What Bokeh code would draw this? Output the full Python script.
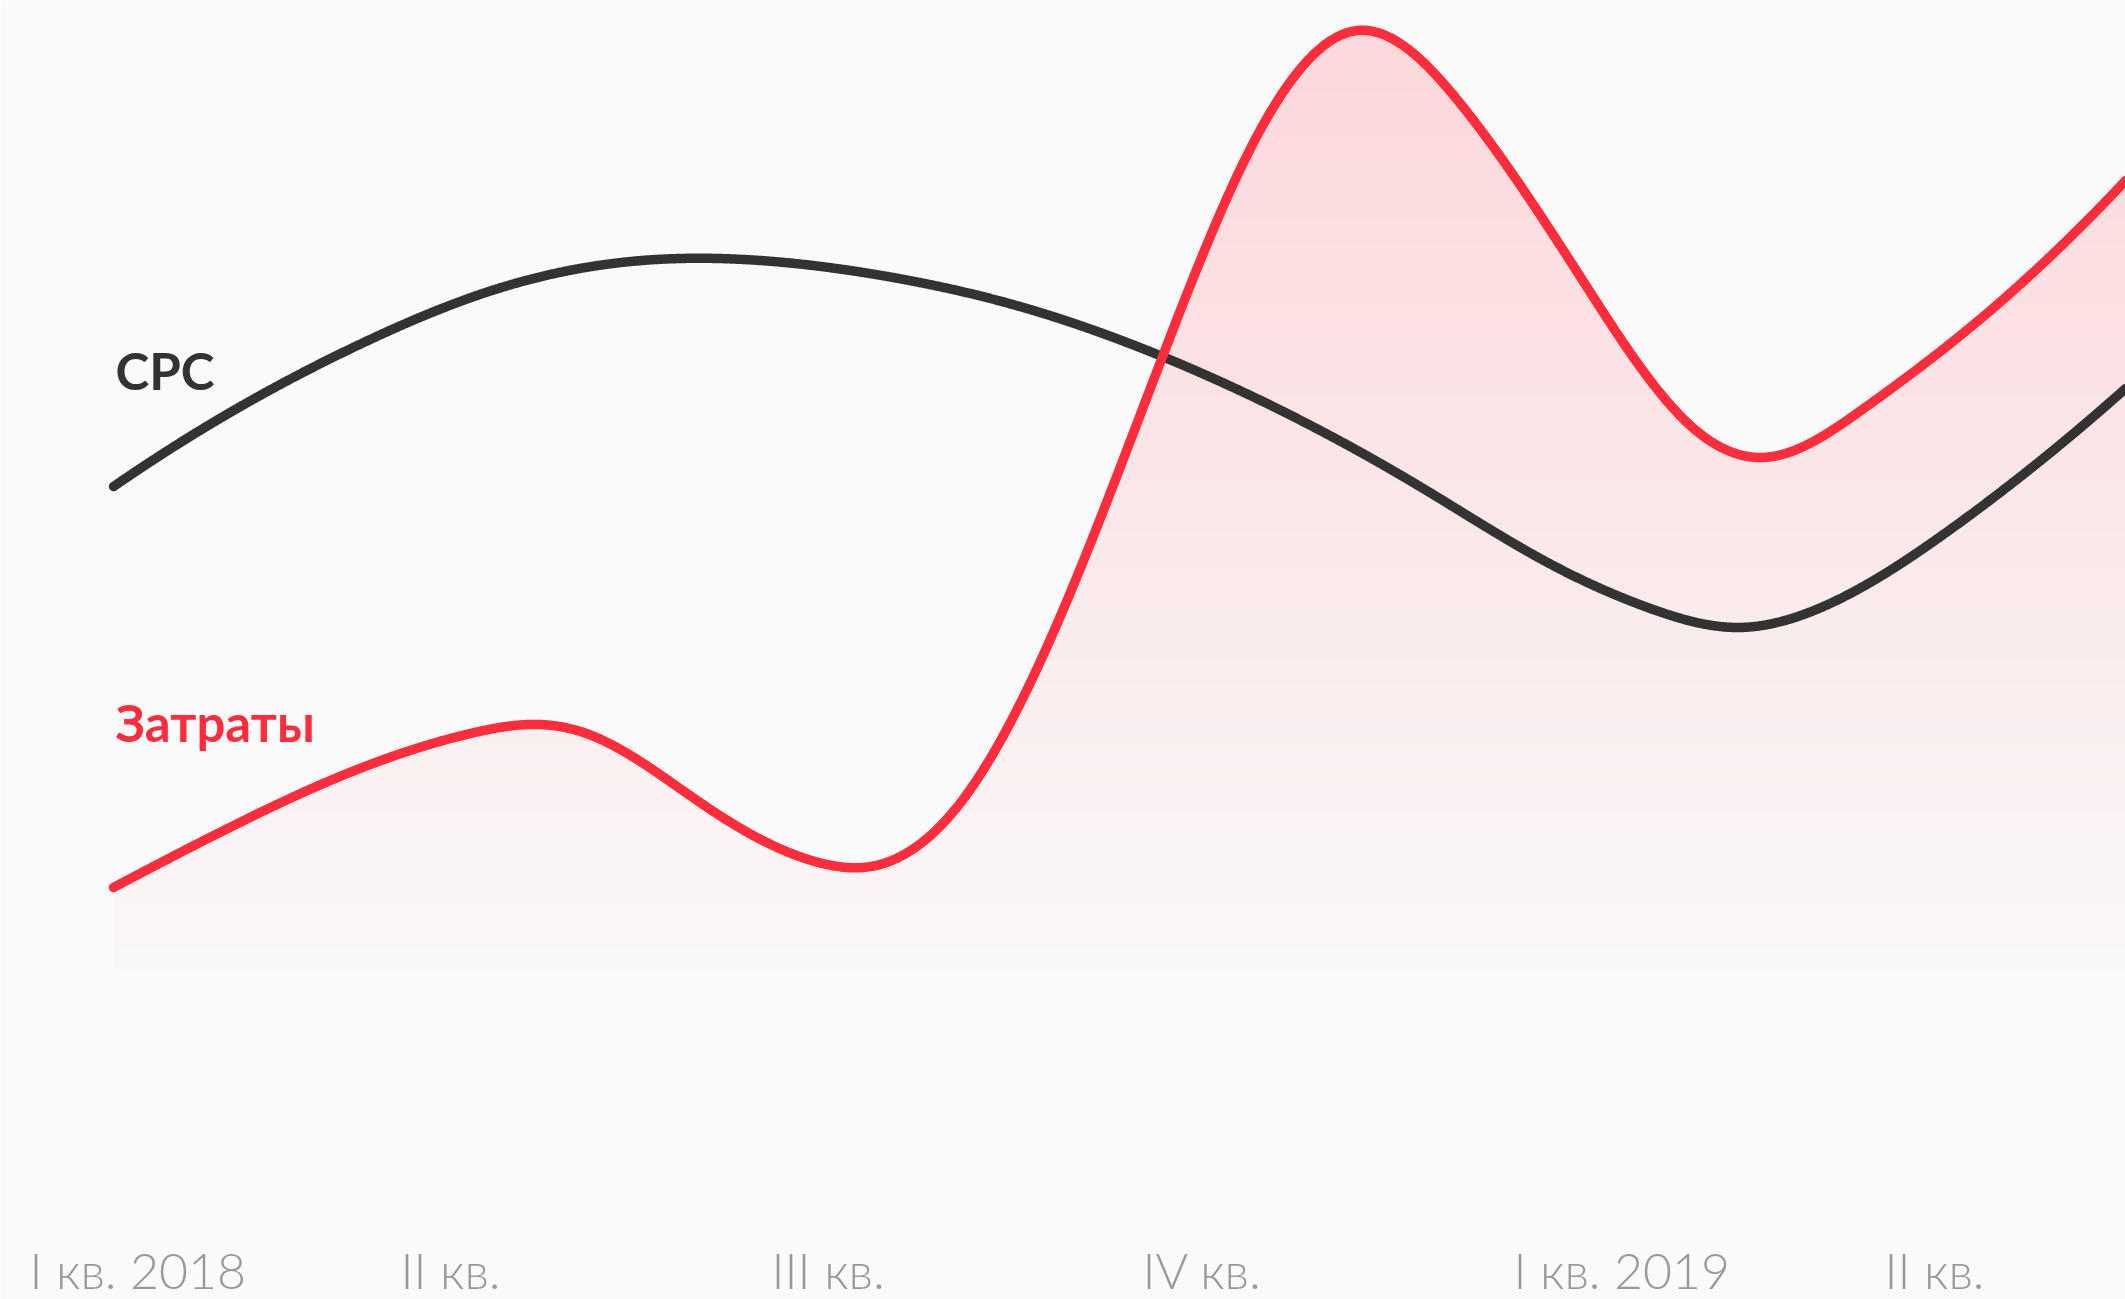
import numpy as np
from bokeh.plotting import figure
from bokeh.models import Range1d, Label
from bokeh.embed import file_html
from bokeh.resources import INLINE

# Quarter labels along the bottom (month index from January 2018)
quarter_labels = ["I кв. 2018", "II кв.", "III кв.", "IV кв.", "I кв. 2019", "II кв."]
quarter_months = [0, 3, 6, 9, 12, 15]

# "Затраты" (spend), relative index
cost_month = [0.68, 1.41, 2.51, 3.60, 4.04, 4.48, 5.47, 6.45, 6.74, 7.53, 8.39,
              9.15, 9.95, 10.74, 11.57, 12.56, 13.43, 14.00, 14.81, 15.78, 16.95]
cost_value = [15.9, 20.6, 27.0, 31.4, 32.2, 31.4, 24.0, 18.2, 17.9, 24.4, 44.6,
              68.6, 91.6, 101.6, 94.3, 76.6, 62.1, 58.9, 63.6, 72.8, 86.6]

# CPC, relative index
cpc_month = [0.68, 1.65, 2.72, 3.79, 4.86, 5.91, 6.89, 7.98, 9.14, 10.17, 11.27,
             12.29, 13.13, 13.82, 14.43, 15.51, 16.95]
cpc_value = [56.0, 63.6, 70.5, 75.8, 78.5, 78.6, 77.1, 74.1, 69.1, 63.3, 55.8,
             48.3, 43.7, 41.9, 43.6, 51.5, 65.8]

BG = "#FAFAFA"
RED = "#FF2D3C"
DARK = "#333333"
GREY = "#999999"


def smooth_curve(x, y, n=2000):
    """Cubic spline path through the points (parabolic run-out at both ends)."""
    x = np.asarray(x, float)
    y = np.asarray(y, float)
    k = len(x)
    h = np.diff(x)
    A = np.zeros((k, k))
    r = np.zeros(k)
    A[0, 0], A[0, 1] = 1.0, -1.0
    A[-1, -1], A[-1, -2] = 1.0, -1.0
    for i in range(1, k - 1):
        A[i, i - 1] = h[i - 1]
        A[i, i] = 2 * (h[i - 1] + h[i])
        A[i, i + 1] = h[i]
        r[i] = 6 * ((y[i + 1] - y[i]) / h[i] - (y[i] - y[i - 1]) / h[i - 1])
    M = np.linalg.solve(A, r)
    xs = np.linspace(x[0], x[-1], n)
    j = np.clip(np.searchsorted(x, xs) - 1, 0, k - 2)
    a = x[j + 1] - xs
    b = xs - x[j]
    hj = h[j]
    ys = (M[j] * a**3 / (6 * hj) + M[j + 1] * b**3 / (6 * hj)
          + (y[j] / hj - M[j] * hj / 6) * a + (y[j + 1] / hj - M[j + 1] * hj / 6) * b)
    return xs, ys


def blend(alpha):
    bg = np.array([0xFA, 0xFA, 0xFA], float)
    fg = np.array([0xFF, 0x2D, 0x3C], float)
    c = bg * (1 - alpha) + fg * alpha
    return "#%02x%02x%02x" % tuple(int(round(v)) for v in c)


cx, cy = smooth_curve(cost_month, cost_value)
px, py = smooth_curve(cpc_month, cpc_value)

p = figure(width=2125, height=1299,
           x_range=Range1d(-0.2345, 16.949), y_range=Range1d(-25.3, 104.6),
           output_backend="svg", toolbar_location=None,
           x_axis_location=None, y_axis_location=None,
           min_border=0, outline_line_color=None,
           background_fill_color=BG, border_fill_color=BG)
p.grid.visible = False

# Vertical gradient under the spend curve, built from thin horizontal bands
top = float(cy.max())
n_bands = 120
edges = np.linspace(0.0, top, n_bands + 1)
overlap = top / n_bands * 0.25
for lo, hi in zip(edges[:-1], edges[1:]):
    base = lo - overlap if lo > 0 else lo
    upper = np.clip(cy, base, hi)
    mid = 0.5 * (lo + hi)
    p.varea(x=cx, y1=np.full_like(cx, base), y2=upper,
            fill_color=blend(0.17 * mid / top), fill_alpha=1.0)

p.line(px, py, line_color=DARK, line_width=9.5, line_cap="round", line_join="round")
p.line(cx, cy, line_color=RED, line_width=9.5, line_cap="round", line_join="round")

# Series names
p.add_layout(Label(x=115, y=929, x_units="screen", y_units="screen",
                   text="CPC", text_font="Lato", text_font_style="bold",
                   text_font_size="51px", text_color=DARK,
                   text_align="left", text_baseline="alphabetic"))
p.add_layout(Label(x=115, y=577, x_units="screen", y_units="screen",
                   text="Затраты", text_font="Lato", text_font_style="bold",
                   text_font_size="51px", text_color=RED,
                   text_align="left", text_baseline="alphabetic"))

# Quarter labels, left-aligned at the start of each quarter
for m, lab in zip(quarter_months, quarter_labels):
    p.add_layout(Label(x=m, y=30, y_units="screen", text=lab,
                       text_font="Lato Light", text_font_size="50px",
                       text_color=GREY, text_align="left",
                       text_baseline="alphabetic"))

open("out.html", "w").write(file_html(p, INLINE))
